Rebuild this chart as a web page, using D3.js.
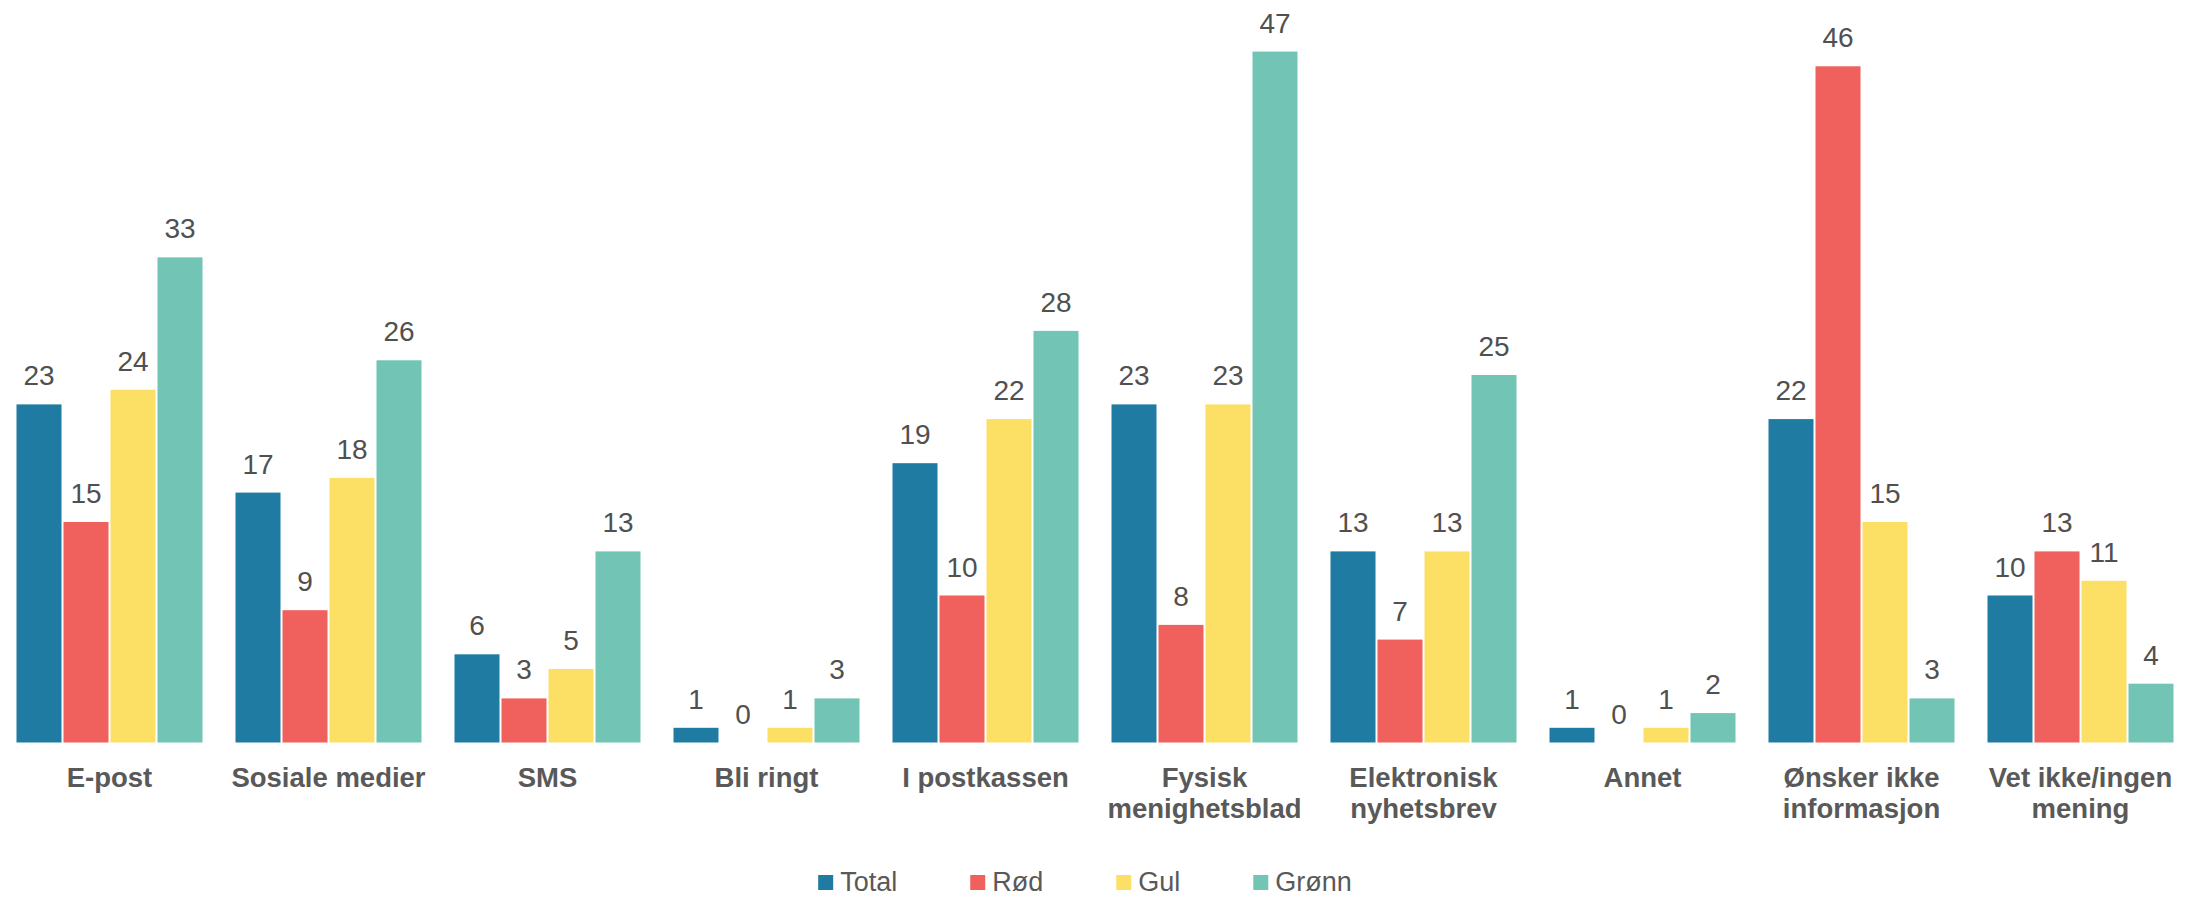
<!DOCTYPE html>
<html>
<head>
<meta charset="utf-8">
<script src="https://cdn.jsdelivr.net/npm/d3@7"></script>
<style>
  html, body { margin: 0; padding: 0; background: #ffffff; }
  svg { display: block; }
</style>
</head>
<body>
<svg id="chart" width="2201" height="898"></svg>
<script>
// Categories (each may wrap onto two lines)
const categories = [
  ["E-post"],
  ["Sosiale medier"],
  ["SMS"],
  ["Bli ringt"],
  ["I postkassen"],
  ["Fysisk", "menighetsblad"],
  ["Elektronisk", "nyhetsbrev"],
  ["Annet"],
  ["Ønsker ikke", "informasjon"],
  ["Vet ikke/ingen", "mening"]
];

// Series
const seriesNames = ["Total", "Rød", "Gul", "Grønn"];
const seriesColors = ["#1f7ba1", "#f0605c", "#fce066", "#72c4b4"];

// Values per series, one per category (percent)
const total = [23, 17, 6, 1, 19, 23, 13, 1, 22, 10];
const rod   = [15, 9, 3, 0, 10, 8, 7, 0, 46, 13];
const gul   = [24, 18, 5, 1, 22, 23, 13, 1, 15, 11];
const gronn = [33, 26, 13, 3, 28, 47, 25, 2, 3, 4];

const seriesValues = [total, rod, gul, gronn];

const svg = d3.select("#chart");
const textColor = "#595959";
const font = "'Liberation Sans', Arial, sans-serif";

const catKeys = categories.map(c => c.join(" "));

// Outer band: one slot per category
const groupPad = 33 / 219;
const x0 = d3.scaleBand()
  .domain(catKeys)
  .range([0, 2190])
  .paddingInner(groupPad)
  .paddingOuter(groupPad / 2);

// Inner band: one bar per series within a category
const x1 = d3.scaleBand()
  .domain(seriesNames)
  .range([0, x0.bandwidth()])
  .paddingInner(2 / 47)
  .paddingOuter(0);

const y = d3.scaleLinear()
  .domain([0, 50])
  .range([742.5, 7.5]);

const rows = catKeys.map((key, i) => ({
  key,
  lines: categories[i],
  bars: seriesNames.map((s, j) => ({ series: s, color: seriesColors[j], value: seriesValues[j][i] }))
}));

const groups = svg.append("g").selectAll("g.group")
  .data(rows)
  .join("g")
  .attr("class", "group")
  .attr("transform", d => `translate(${x0(d.key)},0)`);

groups.selectAll("rect")
  .data(d => d.bars)
  .join("rect")
  .attr("x", d => x1(d.series))
  .attr("width", x1.bandwidth())
  .attr("y", d => y(d.value))
  .attr("height", d => y(0) - y(d.value))
  .attr("fill", d => d.color);

// Value labels above bars
groups.selectAll("text.value")
  .data(d => d.bars)
  .join("text")
  .attr("class", "value")
  .attr("x", d => x1(d.series) + x1.bandwidth() / 2)
  .attr("y", d => y(d.value) - 19)
  .attr("text-anchor", "middle")
  .attr("font-family", font)
  .attr("font-size", 28)
  .attr("fill", "#505050")
  .text(d => d3.format("d")(d.value));

// Category labels under each group
const catLabels = svg.append("g").selectAll("text.cat")
  .data(rows)
  .join("text")
  .attr("class", "cat")
  .attr("x", d => x0(d.key) + x0.bandwidth() / 2)
  .attr("y", 786.7)
  .attr("text-anchor", "middle")
  .attr("font-family", font)
  .attr("font-size", 27.5)
  .attr("font-weight", "bold")
  .attr("fill", textColor);

catLabels.selectAll("tspan")
  .data(d => d.lines.map(l => ({ line: l, cx: x0(d.key) + x0.bandwidth() / 2 })))
  .join("tspan")
  .attr("x", d => d.cx)
  .attr("dy", (d, i) => i === 0 ? 0 : 31.5)
  .text(d => d.line);

// Legend
const legend = svg.append("g").attr("class", "legend");
const swatch = 15, swatchGap = 7, itemGap = 73;
const items = legend.selectAll("g.item")
  .data(seriesNames.map((s, i) => ({ name: s, color: seriesColors[i] })))
  .join("g")
  .attr("class", "item");

items.append("rect")
  .attr("width", swatch)
  .attr("height", swatch)
  .attr("y", 875)
  .attr("fill", d => d.color);

items.append("text")
  .attr("x", swatch + swatchGap)
  .attr("y", 891)
  .attr("font-family", font)
  .attr("font-size", 27)
  .attr("fill", textColor)
  .text(d => d.name);

let offset = 0;
const widths = [];
items.each(function () {
  const w = this.querySelector("text").getComputedTextLength();
  widths.push(swatch + swatchGap + w);
});
const legendWidth = d3.sum(widths) + itemGap * (widths.length - 1);
const legendStart = 1085 - legendWidth / 2;
items.attr("transform", (d, i) => {
  const tx = legendStart + offset;
  offset += widths[i] + itemGap;
  return `translate(${tx},0)`;
});
</script>
</body>
</html>
